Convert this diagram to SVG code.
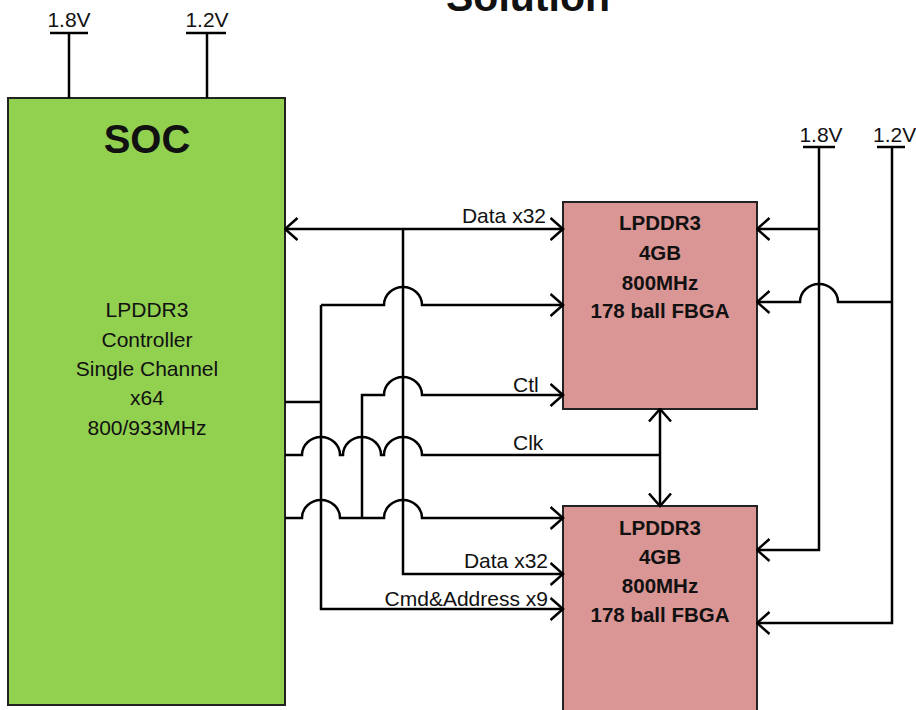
<svg xmlns="http://www.w3.org/2000/svg" width="916" height="710" viewBox="0 0 916 710">
<style>
.w{fill:none;stroke:#000;stroke-width:2.5;stroke-linejoin:miter}
.t{font-family:"Liberation Sans",Arial,sans-serif;font-size:21px;fill:#111}
.b{font-family:"Liberation Sans",Arial,sans-serif;font-size:20.5px;font-weight:bold;fill:#111;text-anchor:middle}
.c{text-anchor:middle}
.e{text-anchor:end}
.box{stroke:#222;stroke-width:2}
</style>
<defs>
<marker id="arr" viewBox="0 0 15 24" refX="13.5" refY="12" markerWidth="15" markerHeight="24" markerUnits="userSpaceOnUse" orient="auto-start-reverse">
<path d="M1,1 L13.5,12 L1,23" fill="none" stroke="#000" stroke-width="2.5"/>
</marker>
</defs>
<rect width="916" height="710" fill="#fff"/>
<text x="528" y="11" style="font-family:'Liberation Sans',Arial,sans-serif;font-size:41px;font-weight:bold;fill:#111;text-anchor:middle">Solution</text>

<g id="soc">
<rect class="box" x="8" y="98" width="277" height="607" fill="#92D050"/>
<text x="147" y="153" style="font-family:'Liberation Sans',Arial,sans-serif;font-size:40px;font-weight:bold;fill:#111;text-anchor:middle">SOC</text>
<text class="t c" x="147" y="317">LPDDR3</text>
<text class="t c" x="147" y="347">Controller</text>
<text class="t c" x="147" y="376">Single Channel</text>
<text class="t c" x="147" y="405">x64</text>
<text class="t c" x="147" y="435">800/933MHz</text>
</g>

<g id="ddr1">
<rect class="box" x="563" y="202" width="194" height="207" fill="#DA9694"/>
<text class="b" x="660" y="230">LPDDR3</text>
<text class="b" x="660" y="260">4GB</text>
<text class="b" x="660" y="290">800MHz</text>
<text class="b" x="660" y="318">178 ball FBGA</text>
</g>

<g id="ddr2">
<rect class="box" x="563" y="506" width="194" height="220" fill="#DA9694"/>
<text class="b" x="660" y="535">LPDDR3</text>
<text class="b" x="660" y="564">4GB</text>
<text class="b" x="660" y="593">800MHz</text>
<text class="b" x="660" y="622">178 ball FBGA</text>
</g>

<g id="pwr-soc-18">
<text class="t c" x="69" y="27">1.8V</text>
<path class="w" d="M50,33 H88"/>
</g>
<g id="pwr-soc-12">
<text class="t c" x="207" y="27">1.2V</text>
<path class="w" d="M186,33 H226"/>
</g>
<g id="pwr-ddr-18">
<text class="t c" x="821" y="142">1.8V</text>
<path class="w" d="M803,147 H835"/>
</g>
<g id="pwr-ddr-12">
<text class="t" x="873" y="142">1.2V</text>
<path class="w" d="M877,147 H905"/>
</g>

<g id="connectors">
<path class="w" d="M69,33 V98"/>
<path class="w" d="M207,33 V98"/>
<path class="w" d="M819,147 V550 H757" marker-end="url(#arr)"/>
<path class="w" d="M819,229 H757" marker-end="url(#arr)"/>
<path class="w" d="M892,147 V623 H757" marker-end="url(#arr)"/>
<path class="w" d="M892,302 H838 A19,18 0 0 0 800,302 H757" marker-end="url(#arr)"/>

<path class="w" d="M285,229 H563" marker-start="url(#arr)" marker-end="url(#arr)"/>
<path class="w" d="M403,229 V574 H563" marker-end="url(#arr)"/>
<path class="w" d="M321,305 V609 H563" marker-end="url(#arr)"/>
<path class="w" d="M321,305 H384 A19,18 0 0 1 422,305 H563" marker-end="url(#arr)"/>
<path class="w" d="M285,402 H321"/>
<path class="w" d="M362,518 V395 H384 A19,18 0 0 1 422,395 H563" marker-end="url(#arr)"/>
<path class="w" d="M285,455 H302 A19,18 0 0 1 340,455 H343 A19,18 0 0 1 381,455 H384 A19,18 0 0 1 422,455 H660"/>
<path class="w" d="M285,518 H302 A19,18 0 0 1 340,518 H384 A19,18 0 0 1 422,518 H563" marker-end="url(#arr)"/>
<path class="w" d="M660,409 V506" marker-start="url(#arr)" marker-end="url(#arr)"/>

<text class="t e" x="546" y="223">Data x32</text>
<text class="t" x="513" y="392">Ctl</text>
<text class="t" x="513" y="450">Clk</text>
<text class="t e" x="548" y="568">Data x32</text>
<text class="t e" x="548" y="606">Cmd&amp;Address x9</text>
</g>
</svg>
